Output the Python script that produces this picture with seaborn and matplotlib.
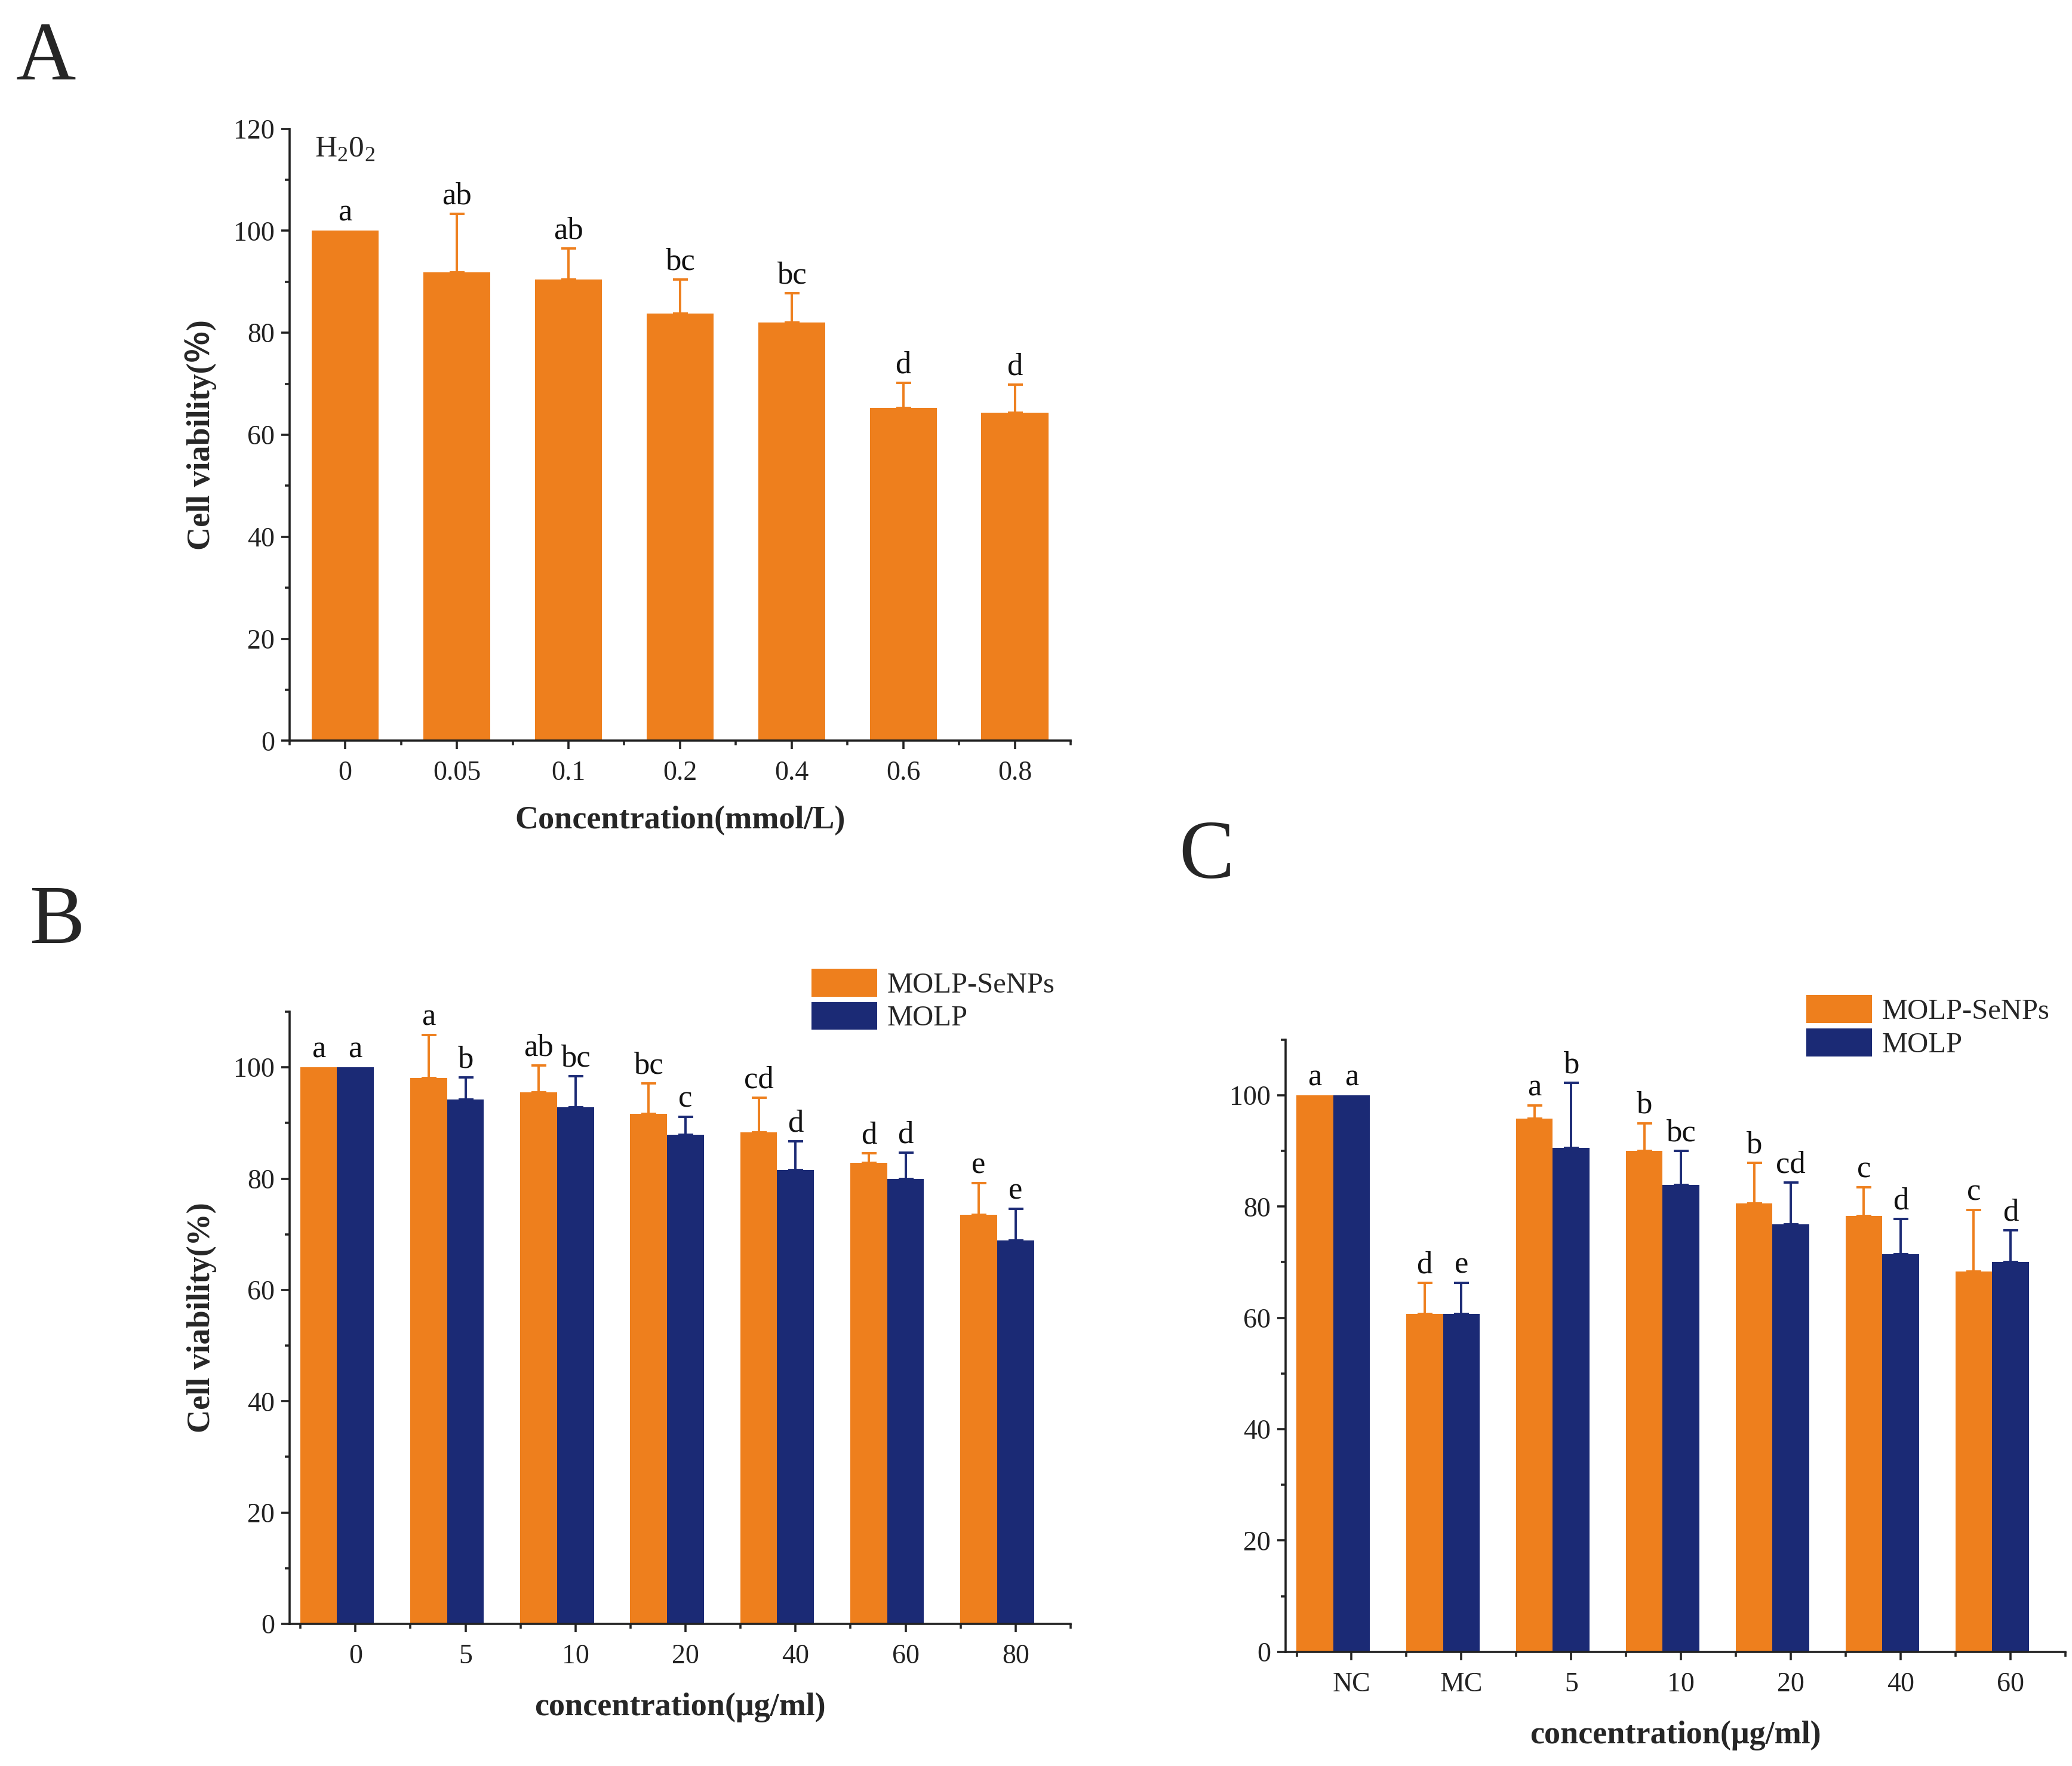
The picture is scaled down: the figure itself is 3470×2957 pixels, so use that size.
import numpy as np
import pandas as pd
import seaborn as sns
import matplotlib.pyplot as plt
from matplotlib.ticker import MultipleLocator, FixedLocator

# ---- data ----
a_conc = ["0", "0.05", "0.1", "0.2", "0.4", "0.6", "0.8"]
a_mean = [100, 91.9, 90.5, 83.8, 82.0, 65.3, 64.3]
a_sd = [0, 11.4, 6.0, 6.6, 5.7, 4.9, 5.5]
a_letters = ["a", "ab", "ab", "bc", "bc", "d", "d"]

b_conc = ["0", "5", "10", "20", "40", "60", "80"]
b_senp_mean = [100, 98.1, 95.5, 91.7, 88.3, 82.9, 73.5]
b_senp_sd = [0, 7.7, 4.8, 5.4, 6.2, 1.7, 5.7]
b_senp_letters = ["a", "a", "ab", "bc", "cd", "d", "e"]
b_molp_mean = [100, 94.2, 92.8, 87.9, 81.6, 80.0, 68.9]
b_molp_sd = [0, 4.0, 5.6, 3.2, 5.1, 4.7, 5.7]
b_molp_letters = ["a", "b", "bc", "c", "d", "d", "e"]

c_conc = ["NC", "MC", "5", "10", "20", "40", "60"]
c_senp_mean = [100, 60.7, 95.8, 90.0, 80.6, 78.3, 68.3]
c_senp_sd = [0, 5.6, 2.4, 5.0, 7.3, 5.2, 11.1]
c_senp_letters = ["a", "d", "a", "b", "b", "c", "c"]
c_molp_mean = [100, 60.7, 90.6, 83.9, 76.8, 71.4, 70.0]
c_molp_sd = [0, 5.6, 11.6, 6.1, 7.5, 6.4, 5.7]
c_molp_letters = ["a", "e", "b", "bc", "cd", "d", "d"]

groups = ["MOLP-SeNPs", "MOLP"]
ORANGE = "#EE7F1D"
NAVY = "#1B2A75"

sns.set_theme(style="ticks")
plt.rcParams["font.family"] = ["Liberation Serif", "DejaVu Serif"]
plt.rcParams["mathtext.fontset"] = "custom"
plt.rcParams["mathtext.rm"] = "Liberation Serif"
plt.rcParams["axes.linewidth"] = 1.3
plt.rcParams["xtick.major.width"] = 1.3
plt.rcParams["ytick.major.width"] = 1.3
plt.rcParams["xtick.minor.width"] = 1.3
plt.rcParams["ytick.minor.width"] = 1.3
plt.rcParams["xtick.direction"] = "out"
plt.rcParams["ytick.direction"] = "out"

TICK_FS = 16.5
LAB_FS = 19.5
LET_FS = 19

fig = plt.figure(figsize=(17.35, 14.785), dpi=200)


def style_axis(ax, ymax, ytop_major):
    sns.despine(ax=ax)
    ax.set_ylim(0, ymax)
    ax.yaxis.set_major_locator(FixedLocator(np.arange(0, ytop_major + 1, 20)))
    ax.yaxis.set_minor_locator(MultipleLocator(10))
    ax.tick_params(axis="both", which="major", length=5, labelsize=TICK_FS,
                   colors="#222222")
    ax.tick_params(axis="both", which="minor", length=2.8)
    ax.tick_params(axis="x", pad=7)
    ax.tick_params(axis="y", pad=4)
    for s in ax.spines.values():
        s.set_color("#222222")


def add_errs(ax, container, sd, letters, color):
    for p, e, t in zip(container.patches, sd, letters):
        x = p.get_x() + p.get_width() / 2
        y = p.get_height()
        if e > 0:
            ax.errorbar(x, y, yerr=[[0], [e]], fmt="none", ecolor=color,
                        elinewidth=1.4, capsize=4.5, capthick=1.4, zorder=1)
        ax.annotate(t, (x, y + e), xytext=(0, 2), textcoords="offset points",
                    ha="center", va="bottom", fontsize=LET_FS, color="#111111")


# ---------------- panel A ----------------
axA = fig.add_axes([0.1397, 0.5805, 0.377, 0.3466])
dfA = pd.DataFrame({"conc": a_conc, "viab": a_mean})
sns.barplot(data=dfA, x="conc", y="viab", color=ORANGE, saturation=1,
            width=0.6, linewidth=0, ax=axA, zorder=2)
add_errs(axA, axA.containers[0], a_sd, a_letters, ORANGE)
axA.set_xlim(-0.5, 6.5)
axA.xaxis.set_minor_locator(FixedLocator(np.arange(-0.5, 7, 1)))
style_axis(axA, 120, 120)
axA.set_xlabel("Concentration(mmol/L)", fontsize=LAB_FS, fontweight="bold",
               labelpad=12)
axA.set_ylabel("Cell viability(\uff05)", fontsize=LAB_FS, fontweight="bold",
               labelpad=10, family=["Liberation Serif", "Noto Sans CJK SC"])
axA.text(0.032, 0.954, r"H$_\mathrm{2}$0$_\mathrm{2}$", transform=axA.transAxes,
         fontsize=18.5, va="baseline", ha="left")


def grouped_panel(rect, conc, m1, s1, l1, m2, s2, l2, leg_anchor, ylab):
    ax = fig.add_axes(rect)
    df = pd.DataFrame({
        "conc": conc * 2,
        "viab": m1 + m2,
        "group": [groups[0]] * len(conc) + [groups[1]] * len(conc),
    })
    sns.barplot(data=df, x="conc", y="viab", hue="group", hue_order=groups,
                palette=[ORANGE, NAVY], saturation=1, width=0.67, linewidth=0,
                ax=ax, zorder=2)
    add_errs(ax, ax.containers[0], s1, l1, ORANGE)
    add_errs(ax, ax.containers[1], s2, l2, NAVY)
    # origin-style: category tick sits under the second bar of each pair
    off = 0.67 / 4
    pos = np.arange(len(conc)) + off
    ax.set_xticks(pos, conc)
    ax.xaxis.set_minor_locator(FixedLocator(np.append(pos - 0.5, pos[-1] + 0.5)))
    ax.set_xlim(pos[0] - 0.6, pos[-1] + 0.5)
    style_axis(ax, 110, 100)
    ax.set_xlabel("concentration(\u03bcg/ml)", fontsize=LAB_FS, fontweight="bold",
                  labelpad=14)
    ax.set_ylabel(ylab, fontsize=LAB_FS, fontweight="bold", labelpad=10)
    h, lab = ax.get_legend_handles_labels()
    ax.legend_.remove()
    fig.legend(h, lab, loc="lower left", bbox_to_anchor=leg_anchor,
               bbox_transform=fig.transFigure, frameon=False, borderpad=0,
               borderaxespad=0, fontsize=17.5, handlelength=2.25,
               handleheight=1.1, labelspacing=0.12, handletextpad=0.35)
    return ax


axB = grouped_panel([0.1397, 0.0805, 0.377, 0.3466], b_conc,
                    b_senp_mean, b_senp_sd, b_senp_letters,
                    b_molp_mean, b_molp_sd, b_molp_letters,
                    (0.3917, 0.4158), "Cell viability(%)")
axC = grouped_panel([0.6205, 0.0647, 0.3763, 0.3466], c_conc,
                    c_senp_mean, c_senp_sd, c_senp_letters,
                    c_molp_mean, c_molp_sd, c_molp_letters,
                    (0.8718, 0.4008), "")

fig.text(0.0077, 0.955, "A", fontsize=50, va="baseline", ha="left")
fig.text(0.0141, 0.466, "B", fontsize=50, va="baseline", ha="left")
fig.text(0.5690, 0.503, "C", fontsize=50, va="baseline", ha="left")

fig.savefig("out.png", dpi=200, facecolor="white")
